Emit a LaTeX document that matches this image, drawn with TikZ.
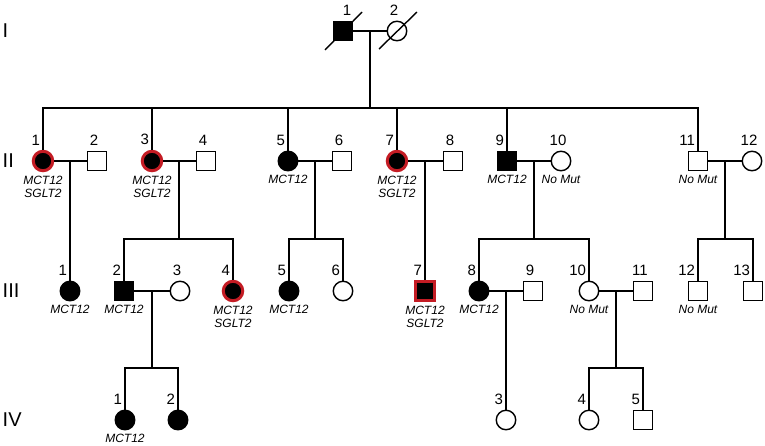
\documentclass[tikz,border=0pt]{standalone}
\usepackage{fontspec}
\setmainfont{Liberation Sans}
\usepackage{tikz}
\usetikzlibrary{calc}
\definecolor{mutred}{RGB}{196,28,36}

\begin{document}
\begin{tikzpicture}[x=1pt, y=-1pt, line width=1.4pt,
        sym/.style={draw, inner sep=0pt, minimum size=19.5pt},
        male/.style={sym, rectangle},
        female/.style={sym, circle},
        aff/.style={fill=black},
        both/.style={fill=black, draw=mutred, line width=3pt},
        num/.style={font=\fontsize{15}{15}\selectfont, inner sep=1pt, yshift=3pt},
        ann/.style={font=\fontsize{12}{13}\selectfont\itshape, align=center, inner sep=1pt, yshift=-2pt},
        gen/.style={font=\fontsize{20}{20}\selectfont, anchor=west, inner sep=0pt},
        nl/.style={label={[num, xshift=-3pt]north:\llap{#1}}},
        nc/.style={label={[num, xshift=-3pt]north:#1}},
        tx/.style={label={[ann]south:{#1}}}]
        \useasboundingbox (0,0) rectangle (765,445);

        \node (gI) at (2,31) [gen] {I};
        \node (gII) at (2,161) [gen] {II};
        \node (gIII) at (2,291) [gen] {III};
        \node (gIV) at (2,420) [gen] {IV};

        \node (i1) at (343,31) [male, aff, label={[num, xshift=4pt]north:1}] {};
        \node (i2) at (397,31) [female, nc=2] {};
        \draw (i1) +(-18,19) -- +(19,-19);
        \draw (i2) +(-18,18) -- +(20,-19);

        \node (ii1) at (43,161) [female, both, nl=1, tx={MCT12\\SGLT2}] {};
        \node (ii2) at (97,161) [male, nc=2] {};
        \node (ii3) at (152,161) [female, both, nl=3, tx={MCT12\\SGLT2}] {};
        \node (ii4) at (206,161) [male, nc=4] {};
        \node (ii5) at (288,161) [female, aff, nl=5, tx=MCT12] {};
        \node (ii6) at (342,161) [male, nc=6] {};
        \node (ii7) at (397,161) [female, both, nl=7, tx={MCT12\\SGLT2}] {};
        \node (ii8) at (453,161) [male, nc=8] {};
        \node (ii9) at (507,161) [male, aff, nl=9, tx=MCT12] {};
        \node (ii10) at (561,161) [female, nc=10, tx=No Mut] {};
        \node (ii11) at (698,161) [male, nl=11, tx=No Mut] {};
        \node (ii12) at (752,161) [female, nc=12] {};

        \node (iii1) at (70,291) [female, aff, nl=1, tx=MCT12] {};
        \node (iii2) at (124,291) [male, aff, nl=2, tx=MCT12] {};
        \node (iii3) at (180,291) [female, nc=3] {};
        \node (iii4) at (233,291) [female, both, nl=4, tx={MCT12\\SGLT2}] {};
        \node (iii5) at (289,291) [female, aff, nl=5, tx=MCT12] {};
        \node (iii6) at (343,291) [female, nl=6] {};
        \node (iii7) at (425,291) [male, both, nl=7, tx={MCT12\\SGLT2}] {};
        \node (iii8) at (479,291) [female, aff, nl=8, tx=MCT12] {};
        \node (iii9) at (533,291) [male, nc=9] {};
        \node (iii10) at (589,291) [female, nl=10, tx=No Mut] {};
        \node (iii11) at (643,291) [male, nc=11] {};
        \node (iii12) at (698,291) [male, nl=12, tx=No Mut] {};
        \node (iii13) at (753,291) [male, nl=13] {};

        \node (iv1) at (125,420) [female, aff, nl=1, tx=MCT12] {};
        \node (iv2) at (178,420) [female, aff, nl=2] {};
        \node (iv3) at (506,420) [female, nl=3] {};
        \node (iv4) at (589,420) [female, nl=4] {};
        \node (iv5) at (643,420) [male, nl=5] {};

        \foreach \a/\b in {i1/i2, ii1/ii2, ii3/ii4, ii5/ii6, ii7/ii8, ii9/ii10, ii11/ii12,
                iii2/iii3, iii8/iii9, iii10/iii11} {
            \draw (\a) -- (\b);
            \coordinate (m\a) at ($(\a)!.5!(\b)$);
        }

        \coordinate (s2) at (0,108);
        \coordinate (s3) at (0,239);
        \coordinate (s4) at (0,368);

        \draw (mi1) -- (mi1 |- s2);
        \draw (ii1) -- (ii1 |- s2) -- (ii11 |- s2) -- (ii11);
        \foreach \n in {ii3, ii5, ii7, ii9}
            \draw (\n) -- (\n |- s2);

        \draw (mii1) -- (iii1);
        \draw (mii7) -- (iii7);
        \draw (miii8) -- (iv3);
        \foreach \p/\s/\a/\b in {ii3/s3/iii2/iii4, ii5/s3/iii5/iii6, ii9/s3/iii8/iii10,
                ii11/s3/iii12/iii13, iii2/s4/iv1/iv2, iii10/s4/iv4/iv5} {
            \draw (m\p) -- (m\p |- \s);
            \draw (\a) -- (\a |- \s) -- (\b |- \s) -- (\b);
        }
    \end{tikzpicture}
\end{document}
